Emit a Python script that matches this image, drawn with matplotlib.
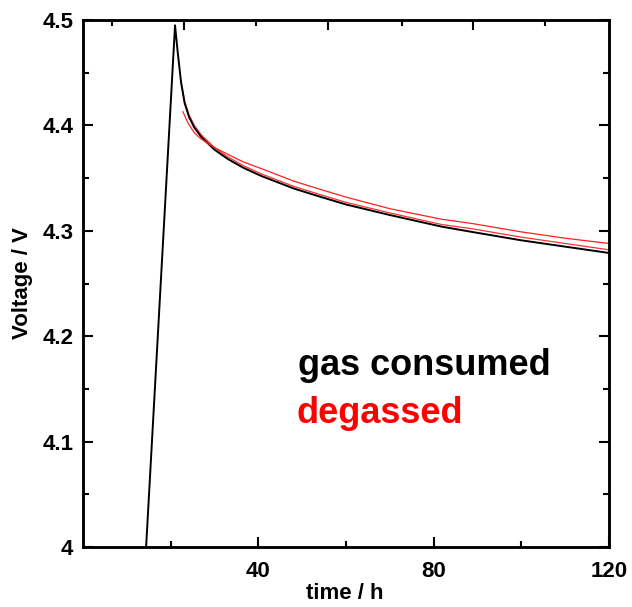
import matplotlib
matplotlib.use("Agg")
import matplotlib.pyplot as plt
from matplotlib.ticker import FixedLocator, NullFormatter

plt.rcParams['font.family'] = ['Liberation Sans', 'DejaVu Sans']
plt.rcParams['font.weight'] = 'bold'

# gas consumed (black)
t_gas = [14.4, 21.0, 21.6, 22.4, 23.2, 24.2, 25.4, 27.0, 30.0, 33.1, 36.5, 40.7,
         48.2, 54.4, 60, 70, 81.8, 88.7, 100, 110, 120]
v_gas = [4.000, 4.495, 4.470, 4.440, 4.421, 4.408, 4.398, 4.389, 4.377, 4.368,
         4.360, 4.352, 4.340, 4.332, 4.325, 4.315, 4.304, 4.299, 4.291, 4.285,
         4.279]

# degassed (red)
t_deg = [22.8, 24.0, 25.4, 27.0, 28.5, 30.0, 33.1, 36.5, 40.7, 48.2, 54.4, 60,
         70, 81.8, 88.7, 100, 110, 120]
v_deg = [4.413, 4.402, 4.393, 4.387, 4.383, 4.379, 4.3725, 4.3655, 4.359, 4.347,
         4.339, 4.332, 4.321, 4.311, 4.307, 4.299, 4.293, 4.288]

# faint red trace running along the black curve
t_deg2 = [22.4, 23.2, 24.2, 25.4, 27.0, 30.0, 33.1, 36.5, 40.7, 48.2, 54.4, 60,
          70, 81.8, 88.7, 100, 110, 120]
v_deg2 = [4.442, 4.423, 4.410, 4.400, 4.391, 4.379, 4.370, 4.362, 4.354, 4.342,
          4.334, 4.327, 4.317, 4.306, 4.302, 4.294, 4.288, 4.282]

x_ticks = [40, 80, 120]
y_ticks = [4.0, 4.1, 4.2, 4.3, 4.4, 4.5]
y_ticklabels = ['4', '4.1', '4.2', '4.3', '4.4', '4.5']
top_major = [23.1, 56.0, 88.9]
top_minor = [6.6, 39.5, 72.7, 105.4]

fig = plt.figure(figsize=(6.32, 6.07), dpi=100)
ax = fig.add_axes([0.1313, 0.0988, 0.8323, 0.8682])

ax.plot(t_deg2, v_deg2, color='#ff3030', lw=0.9, zorder=2)
ax.plot(t_gas, v_gas, color='black', lw=1.4, zorder=3)
ax.plot(t_deg, v_deg, color='#ff2020', lw=0.9, zorder=4)

ax.set_xlim(0, 120)
ax.set_ylim(4.0, 4.5)

ax.set_xticks(x_ticks)
ax.xaxis.set_minor_locator(FixedLocator([20, 60, 100]))
ax.set_yticks(y_ticks)
ax.set_yticklabels(y_ticklabels)
ax.yaxis.set_minor_locator(FixedLocator([4.05, 4.15, 4.25, 4.35, 4.45]))

ax.tick_params(which='major', direction='in', length=7.2, width=1.5,
               labelsize=16, right=True)
ax.tick_params(which='minor', direction='in', length=4.3, width=1.5, right=True)
ax.tick_params(axis='x', which='major', pad=10)
ax.tick_params(axis='y', which='major', pad=7)
for lab in ax.get_xticklabels() + ax.get_yticklabels():
    lab.set_fontweight('bold')

for s in ax.spines.values():
    s.set_linewidth(1.8)

# top axis ticks (no labels)
ax2 = ax.twiny()
ax2.set_xlim(0, 120)
ax2.xaxis.set_major_locator(FixedLocator(top_major))
ax2.xaxis.set_minor_locator(FixedLocator(top_minor))
ax2.xaxis.set_major_formatter(NullFormatter())
ax2.tick_params(which='major', direction='in', length=7.2, width=1.5)
ax2.tick_params(which='minor', direction='in', length=4.3, width=1.5)
for s in ax2.spines.values():
    s.set_linewidth(1.8)

ax.set_xlabel('time / h', fontsize=16, fontweight='bold')
ax.xaxis.label.set_va('baseline')
ax.xaxis.set_label_coords(0.498, -0.099)
ax.set_ylabel('Voltage / V', fontsize=16, fontweight='bold', labelpad=7)

ax.text(49.1, 4.163, 'gas consumed', color='black', fontsize=26,
        fontweight='bold', va='baseline', ha='left')
ax.text(48.6, 4.118, 'degassed', color='#ff0000', fontsize=26,
        fontweight='bold', va='baseline', ha='left')

fig.savefig('out.png', dpi=100)
